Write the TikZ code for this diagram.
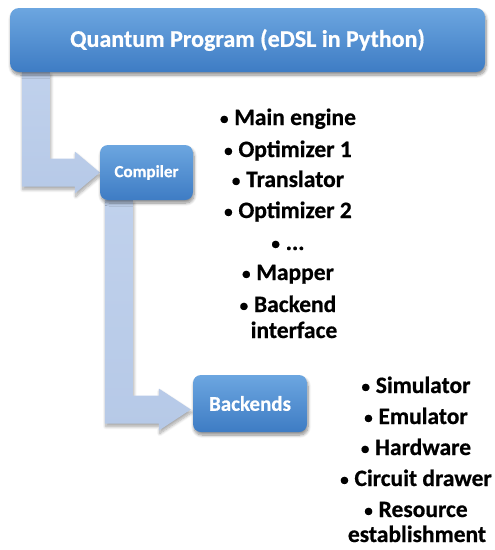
\documentclass[tikz,border=0pt]{standalone}
\usepackage{fontspec}
\setmainfont{Carlito}[BoldFeatures={FakeBold=0.6}]
\usetikzlibrary{calc,shadows.blur}
\pgfdeclarelayer{background}
\pgfsetlayers{background,main}
\definecolor{boxtop}{RGB}{108,166,224}
\definecolor{boxbot}{RGB}{62,124,196}
\definecolor{arrowblue}{RGB}{192,209,236}
\definecolor{arrowblue2}{RGB}{182,201,231}
\newcommand{\bul}{{\fontsize{17}{20}\selectfont\raisebox{0.8pt}{•}}\hspace{0.5pt}}
\tikzset{
  bluebox/.style={rounded corners=9pt, top color=boxtop, bottom color=boxbot,
    text=white, font=\bfseries, inner sep=0pt,
    blur shadow={shadow xshift=1pt, shadow yshift=-3pt, shadow blur steps=8, shadow opacity=45, shadow blur radius=3pt}},
  fatarrow/.style={top color=arrowblue, bottom color=arrowblue2,
    blur shadow={shadow xshift=1pt, shadow yshift=-3pt, shadow blur steps=8, shadow opacity=35, shadow blur radius=3pt}},
  listitem/.style={anchor=base, inner sep=0pt, font=\fontsize{23.5}{28}\selectfont\bfseries, text=black},
}
\begin{document}
\begin{tikzpicture}[x=1pt,y=-1pt]
\useasboundingbox (0,0) rectangle (495,550);
\node[bluebox, minimum width=475pt, minimum height=64pt, font=\fontsize{24}{28}\selectfont\bfseries] (top) at (247.5,40) {Quantum Program (eDSL in Python)};
\node[bluebox, rounded corners=8pt, minimum width=93pt, minimum height=55pt, font=\fontsize{17}{20}\selectfont\bfseries] (compiler) at (146.5,172.5) {Compiler};
\node[bluebox, rounded corners=8pt, minimum width=114pt, minimum height=57pt, font=\fontsize{21}{24}\selectfont\bfseries] (backends) at (250,403.5) {Backends};
\begin{pgfonlayer}{background}
\coordinate (t2) at ($(backends.west)+(-2,6)$);
\path[fatarrow] ($(top.south west)+(12,0)$) coordinate (a1) -- ++(28,0)
  |- ($(compiler.west)+(-25,-14)$) -- ++(0,-7) -- (compiler.west) -- ++(-25,21) -- ++(0,-7) -| (a1) -- cycle;
\path[fatarrow] ($(compiler.south west)+(5,0)$) coordinate (a2) -- ++(28,0)
  |- ($(t2)+(-32,-14)$) -- ++(0,-7) -- (t2) -- ++(-32,21) -- ++(0,-7) -| (a2) -- cycle;
\end{pgfonlayer}
\node[listitem] (c1) at (288,125) {\bul\ Main engine};
\node[listitem] (c2) at (288,157) {\bul\ Optimizer 1};
\node[listitem] (c3) at (288,187) {\bul\ Translator};
\node[listitem] (c4) at (288,218) {\bul\ Optimizer 2};
\node[listitem] (c5) at (288,250) {\bul\ ...};
\node[listitem] (c6) at (288,280) {\bul\ Mapper};
\node[listitem] (c7) at (288,312) {\bul\ Backend};
\node[listitem] (c8) at (294,338) {interface};
\node[listitem] (b1) at (416,393) {\bul\ Simulator};
\node[listitem] (b2) at (416,424) {\bul\ Emulator};
\node[listitem] (b3) at (416,455) {\bul\ Hardware};
\node[listitem] (b4) at (416,486) {\bul\ Circuit drawer};
\node[listitem] (b5) at (416,517) {\bul\ Resource};
\node[listitem] (b6) at (417,542) {establishment};
\end{tikzpicture}
\end{document}
